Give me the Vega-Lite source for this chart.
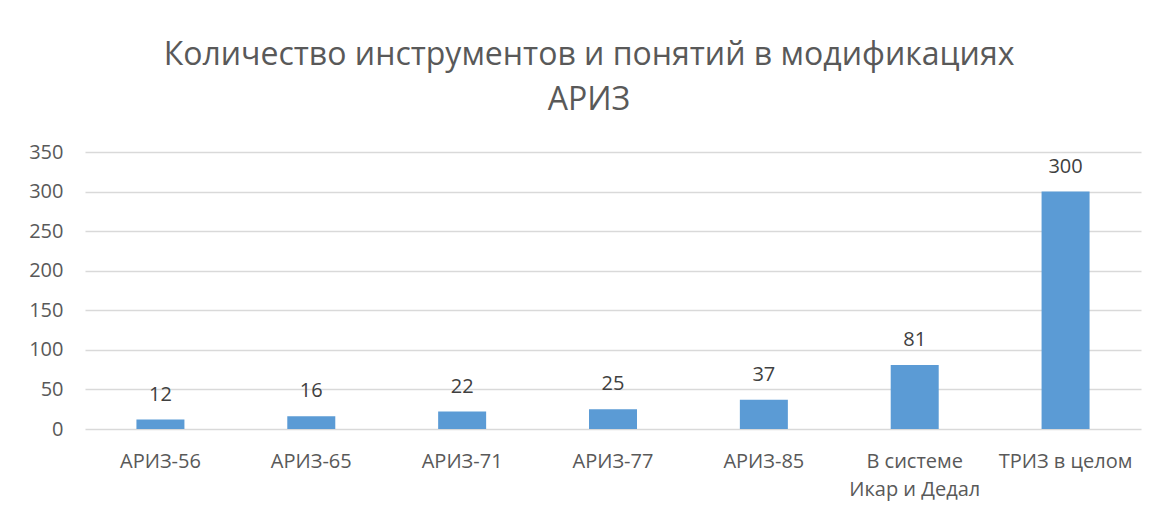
{
  "$schema": "https://vega.github.io/schema/vega-lite/v6.json",
  "width": 1056,
  "height": 277,
  "autosize": {"type": "none"},
  "padding": {"left": 85, "top": 152, "right": 25, "bottom": 90},
  "background": "white",
  "title": {
    "text": ["Количество инструментов и понятий в модификациях", "АРИЗ"],
    "font": "Open Sans",
    "fontSize": 32,
    "fontWeight": "normal",
    "color": "#595959",
    "anchor": "middle",
    "lineHeight": 45,
    "offset": 25,
    "dx": -24
  },
  "data": {
    "values": [
      {"name": "АРИЗ-56", "value": 12},
      {"name": "АРИЗ-65", "value": 16},
      {"name": "АРИЗ-71", "value": 22},
      {"name": "АРИЗ-77", "value": 25},
      {"name": "АРИЗ-85", "value": 37},
      {"name": "В системе Икар и Дедал", "value": 81},
      {"name": "ТРИЗ в целом", "value": 300}
    ]
  },
  "encoding": {
    "x": {
      "field": "name",
      "type": "nominal",
      "sort": null,
      "title": null,
      "scale": {"paddingInner": 0, "paddingOuter": 0},
      "axis": {
        "domain": false,
        "ticks": false,
        "labelAngle": 0,
        "labelFont": "Open Sans",
        "labelFontSize": 20,
        "labelColor": "#595959",
        "labelPadding": 22,
        "labelLineHeight": 28,
        "labelExpr": "datum.label == 'В системе Икар и Дедал' ? ['В системе', 'Икар и Дедал'] : datum.label"
      }
    },
    "y": {
      "field": "value",
      "type": "quantitative",
      "title": null,
      "scale": {"domain": [0, 350]},
      "axis": {
        "values": [0, 50, 100, 150, 200, 250, 300, 350],
        "domain": false,
        "ticks": false,
        "labelFont": "Open Sans",
        "labelFontSize": 20,
        "labelColor": "#595959",
        "labelPadding": 22,
        "gridColor": "#d9d9d9",
        "gridWidth": 1.5
      }
    }
  },
  "layer": [
    {"mark": {"type": "bar", "color": "#5B9BD5", "size": 48}},
    {
      "mark": {"type": "text", "baseline": "bottom", "dy": -15, "font": "Open Sans", "fontSize": 20, "color": "#404040"},
      "encoding": {"text": {"field": "value", "type": "quantitative"}}
    }
  ],
  "config": {"view": {"stroke": null}}
}
